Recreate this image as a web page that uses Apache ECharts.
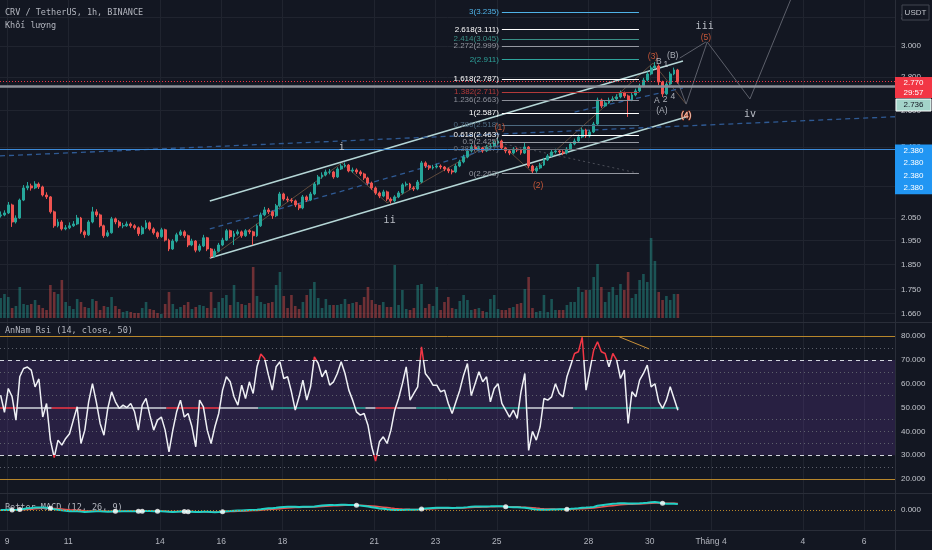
<!DOCTYPE html>
<html>
<head>
<meta charset="utf-8">
<title>CRV / TetherUS 1h</title>
<script src="https://cdn.jsdelivr.net/npm/echarts@6/dist/echarts.min.js"></script>
<style>
html,body{margin:0;padding:0;background:#131722;}
#chart{width:932px;height:550px;}
</style>
</head>
<body>
<div id="chart"></div>
<script>
// ================= DATA =================
const firstCandleTime = '2022-03-08 19:00';
const candleHours = 3;
const firstOpen = 2.060;
const closes = [
2.064,2.073,2.110,2.032,2.050,2.133,2.191,2.201,2.191,2.210,
2.196,2.157,2.148,2.078,2.015,2.032,2.001,2.006,2.015,2.023,
2.050,1.988,1.975,2.032,2.078,2.064,2.015,1.971,1.984,2.046,
2.032,2.015,2.015,2.023,2.015,2.006,1.980,2.006,2.028,2.001,
1.984,1.967,1.997,1.952,1.914,1.948,1.975,1.988,1.971,1.931,
1.948,1.909,1.927,1.962,1.914,1.884,1.905,1.931,1.952,1.993,
1.967,1.980,1.988,1.971,1.993,1.988,1.971,2.015,2.064,2.087,
2.078,2.060,2.106,2.162,2.138,2.133,2.129,2.110,2.096,2.148,
2.133,2.162,2.210,2.245,2.255,2.270,2.270,2.245,2.285,2.300,
2.305,2.275,2.280,2.270,2.260,2.240,2.215,2.191,2.167,2.152,
2.172,2.138,2.129,2.148,2.167,2.206,2.210,2.191,2.186,2.220,
2.316,2.300,2.290,2.295,2.300,2.295,2.285,2.275,2.270,2.300,
2.321,2.347,2.378,2.399,2.388,2.394,2.378,2.399,2.404,2.420,
2.431,2.394,2.378,2.367,2.388,2.383,2.367,2.399,2.300,2.275,
2.290,2.305,2.331,2.352,2.373,2.378,2.373,2.367,2.388,2.415,
2.431,2.453,2.491,2.458,2.480,2.524,2.662,2.627,2.645,2.662,
2.668,2.680,2.704,2.686,2.662,2.692,2.716,2.746,2.782,2.820,
2.858,2.870,2.770,2.698,2.758,2.820,2.845,2.770
];
const highs = [
2.080,2.085,2.124,2.116,2.062,2.140,2.205,2.220,2.212,2.224,
2.218,2.202,2.170,2.152,2.084,2.045,2.040,2.018,2.030,2.036,
2.064,2.055,1.995,2.040,2.101,2.090,2.070,2.020,1.995,2.055,
2.052,2.040,2.028,2.034,2.030,2.022,2.012,2.015,2.040,2.034,
2.008,1.990,2.006,2.002,1.958,1.956,1.984,1.997,1.995,1.976,
1.958,1.952,1.936,1.975,1.966,1.918,1.915,1.940,1.962,2.001,
1.998,1.992,1.998,1.994,2.000,1.999,1.993,2.024,2.075,2.101,
2.096,2.084,2.115,2.172,2.168,2.150,2.142,2.135,2.118,2.157,
2.155,2.172,2.220,2.255,2.268,2.282,2.285,2.276,2.294,2.312,
2.318,2.310,2.292,2.288,2.278,2.266,2.246,2.222,2.198,2.174,
2.182,2.178,2.146,2.156,2.176,2.214,2.222,2.216,2.200,2.230,
2.326,2.324,2.306,2.306,2.312,2.308,2.300,2.292,2.284,2.310,
2.332,2.358,2.390,2.412,2.408,2.406,2.400,2.410,2.416,2.432,
2.446,2.438,2.400,2.386,2.398,2.396,2.390,2.420,2.404,2.306,
2.300,2.316,2.342,2.362,2.384,2.390,2.388,2.382,2.398,2.426,
2.444,2.466,2.504,2.498,2.492,2.536,2.676,2.670,2.658,2.676,
2.684,2.696,2.718,2.712,2.694,2.704,2.730,2.760,2.796,2.834,
2.872,2.895,2.880,2.778,2.770,2.834,2.860,2.852
];
const lows = [
2.052,2.058,2.068,2.010,2.025,2.046,2.128,2.180,2.178,2.185,
2.186,2.150,2.138,2.070,2.006,2.008,1.994,1.995,2.000,2.010,
2.018,1.980,1.962,1.970,2.026,2.055,2.008,1.962,1.965,1.980,
2.022,2.006,2.004,2.010,2.006,1.998,1.970,1.975,2.000,1.994,
1.976,1.958,1.962,1.946,1.905,1.910,1.942,1.970,1.962,1.922,
1.926,1.900,1.902,1.922,1.905,1.876,1.878,1.900,1.926,1.948,
1.960,1.931,1.972,1.962,1.966,1.978,1.931,1.966,2.010,2.058,
2.068,2.046,2.054,2.100,2.130,2.124,2.120,2.100,2.086,2.090,
2.124,2.128,2.156,2.204,2.236,2.248,2.258,2.236,2.240,2.280,
2.292,2.268,2.266,2.260,2.250,2.230,2.206,2.182,2.158,2.142,
2.146,2.128,2.117,2.122,2.142,2.160,2.198,2.182,2.176,2.180,
2.214,2.290,2.280,2.282,2.288,2.284,2.274,2.264,2.258,2.264,
2.294,2.314,2.340,2.370,2.378,2.380,2.368,2.372,2.392,2.398,
2.414,2.385,2.366,2.356,2.360,2.372,2.358,2.362,2.290,2.262,
2.266,2.284,2.300,2.326,2.346,2.364,2.362,2.356,2.360,2.382,
2.408,2.424,2.446,2.448,2.450,2.474,2.518,2.615,2.620,2.638,
2.652,2.660,2.672,2.674,2.564,2.655,2.684,2.708,2.738,2.774,
2.812,2.850,2.752,2.680,2.690,2.750,2.812,2.760
];
const volumes = [
20,24,21,10,12,31,14,13,14,18,
13,10,8,33,26,24,38,16,12,9,
19,16,11,10,19,17,8,12,11,21,
12,9,6,7,6,5,5,10,16,9,
8,5,4,14,26,14,9,11,13,16,
9,11,13,12,10,26,10,16,20,23,
13,33,16,14,13,15,51,22,16,14,
15,16,33,46,22,10,23,12,9,16,
23,29,36,20,10,19,13,13,13,14,
19,14,15,16,13,21,31,18,14,13,
16,11,11,53,13,28,9,8,10,33,
34,10,14,12,31,8,16,21,10,9,
17,23,18,8,9,10,7,6,19,23,
9,8,8,10,11,14,15,29,41,10,
6,7,23,6,19,8,8,8,13,16,
16,31,26,28,28,41,54,31,16,26,
31,23,34,28,46,20,24,38,44,36,
80,57,26,18,22,18,24,24
];
const rsiValues = [
55.2,48,58,54.5,44.7,62.9,66.4,67,65.7,58.7,
62,46,51.7,36.3,29,36.3,34.2,37,39,44.7,
50.3,34.9,40.5,52.4,60,52.4,43.3,38.4,49.6,56.6,
52.4,49.6,51,50,51.7,48.2,40.5,51,53.8,46.8,
40.5,44.7,46,40.5,31.4,40.5,48.2,53.1,46,47.5,
41.9,33.5,53.1,50.3,40.5,34.9,41.9,47.5,57.3,62.9,
60.8,54.5,51,59.4,53.8,60.8,55.9,67.1,72.5,70.6,
63.6,57.3,67.1,69.2,62.2,62.9,56.6,48.9,54.5,61.5,
53.1,58.7,71.3,68.5,62.9,65.7,59.4,60.8,64.3,69.2,
64.3,57.3,53.1,48.2,46.8,47.5,42.6,33.5,27.5,35.6,
37.7,34.9,40.5,48.9,53.8,60,67.1,53.1,55.9,58.7,
75.5,64.3,62.2,59.4,59.4,56.6,57.3,51.7,47.5,52.4,
57.3,63.6,68.5,55,60,65,60.8,62.9,52.4,58,
60,51.7,48.9,46,48.9,45.4,56.6,64.3,32,40,
36.3,41.9,53.8,53.1,54.5,60,55.9,54.5,62.9,67.8,
72.7,73.4,79.5,57.3,65.7,74.1,77.6,73.4,72.7,67.1,
72.7,69.9,62.2,65.7,43.3,56.6,54.5,61.5,64.3,67.8,
58.7,60,52.4,49.6,53.1,58.7,53.8,48.9
];

const priceTicks = [1.66, 1.75, 1.85, 1.95, 2.05, 2.20, 2.40, 2.60, 2.80, 3.00, 3.20];
const rsiTicks = [20, 30, 40, 50, 60, 70, 80];
const dateTicks = ['2022-03-09','2022-03-11','2022-03-14','2022-03-16','2022-03-18','2022-03-21',
  '2022-03-23','2022-03-25','2022-03-28','2022-03-30','2022-04-01','2022-04-04','2022-04-06'];
const viewStart = '2022-03-08 18:30';
const viewEnd = '2022-04-07 00:15';

// horizontal price lines
const lastPrice = 2.770;
const countdown = '29:57';
const grayLinePrice = 2.736;
const blueLinePrice = 2.380;
const blueLineCount = 4;

// Fibonacci extension
const fibStartTime = '2022-03-25 04:00';
const fibEndTime = '2022-03-29 15:30';
const fibRatios = ['3.272', '3', '2.618', '2.414', '2.272', '2', '1.618', '1.382', '1.236', '1', '0.786', '0.618', '0.5', '0.382', '0'];
const fibPrices = [3.323, 3.235, 3.111, 3.045, 2.999, 2.911, 2.787, 2.711, 2.663, 2.587, 2.518, 2.463, 2.425, 2.387, 2.263];

// drawings (time, price)
const channelUpper = [['2022-03-15 15:00', 2.129], ['2022-03-31 02:00', 2.902]];
const channelLower = [['2022-03-15 15:00', 1.876], ['2022-03-31 04:30', 2.564]];
const channelMid = [['2022-03-15 15:00', 2.001], ['2022-03-25 02:30', 2.405]];
const longDash = [['2022-03-08 18:30', 2.352], ['2022-04-07 00:15', 2.565]];
const shortDash = [['2022-03-27 13:00', 2.592], ['2022-03-31 02:00', 2.734]];
const projPath = [['2022-03-30 22:00', 2.770], ['2022-03-31 04:30', 2.638], ['2022-03-31 21:00', 3.027], ['2022-04-02 06:30', 2.668], ['2022-04-03 16:00', 3.36]];
const projBranch = [['2022-03-30 23:30', 2.921], ['2022-03-31 20:00', 3.027]];
const wavePath = [['2022-03-15 15:00', 1.876], ['2022-03-19 22:30', 2.316], ['2022-03-21 10:00', 2.120], ['2022-03-25 00:00', 2.436], ['2022-03-26 03:30', 2.270], ['2022-03-30 02:30', 2.889], ['2022-03-31 04:30', 2.638]];
const fibDiag = [['2022-03-25 02:30', 2.420], ['2022-03-29 14:00', 2.265]];

// wave labels
const waveText = ['i','ii','(1)','(2)','(3)','B','1','(B)','A','2','4','(A)','(4)','iii','(5)','iv'];
const waveTime = ['2022-03-19 22:30','2022-03-21 12:00','2022-03-25 02:30','2022-03-26 08:30','2022-03-30 02:30','2022-03-30 07:00','2022-03-30 12:30','2022-03-30 18:00','2022-03-30 05:30','2022-03-30 12:00','2022-03-30 18:00','2022-03-30 09:30','2022-03-31 04:30','2022-03-31 19:00','2022-03-31 20:00','2022-04-02 06:30'];
const wavePrice = [2.399, 2.041, 2.502, 2.201, 2.931, 2.896, 2.877, 2.934, 2.656, 2.662, 2.680, 2.598, 2.569, 3.136, 3.054, 2.579];
const waveKind = ['roman','roman','major','major','major','sub','sub','sub','sub','sub','sub','sub','special','roman','major','roman'];

// RSI drawings
const rsiMidStart = ['2022-03-08 18:30','2022-03-09 08:00','2022-03-10 11:00','2022-03-11 07:00','2022-03-14 05:00','2022-03-15 23:00','2022-03-17 05:00','2022-03-20 17:00','2022-03-21 01:00','2022-03-21 18:00','2022-03-22 09:00','2022-03-26 00:00','2022-03-27 12:00'];
const rsiMidEnd = ['2022-03-09 08:00','2022-03-10 11:00','2022-03-11 07:00','2022-03-14 05:00','2022-03-15 23:00','2022-03-17 05:00','2022-03-20 17:00','2022-03-21 01:00','2022-03-21 18:00','2022-03-22 09:00','2022-03-26 00:00','2022-03-27 12:00','2022-03-30 23:00'];
const rsiMidState = ['bear','neutral','bear','neutral','bear','neutral','bull','neutral','bear','neutral','bull','neutral','bull'];
const rsiDiverge = [['2022-03-29 00:00', 79.7], ['2022-03-29 23:30', 74.6]];

// ================= BUILD =================
const T = s => Date.parse(s.length === 10 ? s + 'T00:00:00Z' : s.replace(' ', 'T') + ':00Z');
const L = Math.log;
const HOUR = 3600e3;
const t0 = T(firstCandleTime);
const times = closes.map((_, i) => t0 + i * candleHours * HOUR);
const opens = closes.map((c, i) => i === 0 ? firstOpen : closes[i - 1]);
const candleData = closes.map((c, i) => [times[i], L(opens[i]), L(c), L(lows[i]), L(highs[i])]);
const UP = '#26a69a', DOWN = '#ef5350';
const volData = volumes.map((v, i) => ({
  value: [times[i], v],
  itemStyle: { color: closes[i] >= opens[i] ? 'rgba(38,166,154,0.42)' : 'rgba(239,83,80,0.42)' }
}));
const rsiData = rsiValues.map((v, i) => [times[i], v]);

function ema(src, n) {
  const a = 2 / (n + 1), out = [];
  src.forEach((v, i) => out.push(i ? a * v + (1 - a) * out[i - 1] : v));
  return out;
}
const e12 = ema(closes, 12), e26 = ema(closes, 26);
const macd = e12.map((v, i) => v - e26[i]);
const signal = ema(macd, 9);
const crossDots = [];
for (let i = 1; i < macd.length; i++) {
  const a = macd[i - 1] - signal[i - 1], b = macd[i] - signal[i];
  if ((a < 0) !== (b < 0)) crossDots.push([times[i], macd[i]]);
}
const macdAbs = Math.max(...macd.map(Math.abs), ...signal.map(Math.abs));
const macdMax = macdAbs * 2.0, macdMin = -macdMax * 1.25;

const xMin = T(viewStart), xMax = T(viewEnd);
const dateTickVals = dateTicks.map(T);
const lnMin = 0.48758, lnMax = 1.20044;

const fibColors = ['#787b86','#4fb3e8','#ffffff','#3b8f86','#9598a1','#2ea39b','#ffffff','#b33a3a','#8c8f99','#ffffff','#4d6a80','#ffffff','#9598a1','#6d7079','#9598a1'];
const fibLines = fibPrices.map((p, i) => [
  { coord: [T(fibStartTime), L(p)], lineStyle: { color: fibColors[i], width: 1.2, type: 'solid' },
    label: { show: i > 0, position: 'start', distance: 3, formatter: fibRatios[i] + '(' + p.toFixed(3) + ')',
      color: fibColors[i], fontSize: 8, fontFamily: 'Liberation Sans' } },
  { coord: [T(fibEndTime), L(p)] }
]);
const hLines = [
  { yAxis: L(blueLinePrice), lineStyle: { color: '#3c8ad8', width: 1, type: 'solid' } },
  { yAxis: L(grayLinePrice), lineStyle: { color: '#8d9099', width: 2.5, type: 'solid' } },
  { yAxis: L(lastPrice), lineStyle: { color: '#f23645', width: 1, type: [1, 2] } }
];

const lineSeries = (pts, style, z) => ({
  type: 'line', xAxisIndex: 0, yAxisIndex: 0, silent: true, symbol: 'none', z: z || 3,
  data: pts.map(p => [T(p[0]), L(p[1])]), lineStyle: style, animation: false
});

const waveStyles = {
  roman: { color: '#e0e3eb', fontSize: 10, fontFamily: 'DejaVu Sans Mono' },
  major: { color: '#f4683f', fontSize: 8.5, fontFamily: 'Liberation Sans' },
  sub: { color: '#d1d4dc', fontSize: 8.5, fontFamily: 'Liberation Sans' },
  special: { color: '#ffffff', fontSize: 8.5, fontFamily: 'Liberation Sans', textBorderColor: '#d84315', textBorderWidth: 1 }
};
const waveData = waveText.map((s, i) => ({
  value: [T(waveTime[i]), L(wavePrice[i])],
  label: Object.assign({ show: true, position: 'inside', formatter: s }, waveStyles[waveKind[i]])
}));

const midColors = { bear: '#f23645', neutral: '#d1d4dc', bull: '#26a69a' };
const rsiMid = rsiMidStart.map((s, i) => [
  { coord: [T(s), 50], lineStyle: { color: midColors[rsiMidState[i]], width: 1.5, type: 'solid' } },
  { coord: [T(rsiMidEnd[i]), 50] }
]);
const rsiLevels = [
  { yAxis: 80, lineStyle: { color: '#b8862b', width: 1, type: 'solid' } },
  { yAxis: 20, lineStyle: { color: '#b8862b', width: 1, type: 'solid' } },
  { yAxis: 70, lineStyle: { color: '#d1d4dc', width: 1, type: [4, 4] } },
  { yAxis: 30, lineStyle: { color: '#d1d4dc', width: 1, type: [4, 4] } }
].concat([75, 65, 60, 55, 45, 40, 35, 25].map(v => ({ yAxis: v, lineStyle: { color: '#5d606b', width: 1, type: [1, 3] } })));
const rsiDiv = [[
  { coord: [T(rsiDiverge[0][0]), rsiDiverge[0][1]], lineStyle: { color: '#c9913a', width: 1, type: 'solid' } },
  { coord: [T(rsiDiverge[1][0]), rsiDiverge[1][1]] }
]];

const gridLineColor = '#20242f';
const axisText = { color: '#c2c5cc', fontSize: 8, fontFamily: 'Liberation Sans' };
const xAxisBase = i => ({
  type: 'value', gridIndex: i, min: xMin, max: xMax,
  axisLine: { show: false },
  axisTick: { show: false, customValues: dateTickVals },
  axisLabel: i === 3 ? {
    show: true, customValues: dateTickVals, margin: 7, hideOverlap: false,
    color: '#b2b5be', fontSize: 8.5, fontFamily: 'Liberation Sans',
    formatter: v => { const d = new Date(v); return d.getUTCDate() === 1 ? 'Tháng ' + (d.getUTCMonth() + 1) : String(d.getUTCDate()); }
  } : { show: false },
  splitLine: { show: i !== 1, lineStyle: { color: gridLineColor, width: 1 } }
});

const chart = echarts.init(document.getElementById('chart'));
chart.setOption({
  animation: false,
  backgroundColor: '#131722',
  textStyle: { fontFamily: 'Liberation Sans' },
  grid: [
    { left: 0, right: 37, top: 0, height: 322 },
    { left: 0, right: 37, top: 198, height: 120 },
    { left: 0, right: 37, top: 323, height: 170 },
    { left: 0, right: 37, top: 494, height: 36 }
  ],
  xAxis: [xAxisBase(0), xAxisBase(1), xAxisBase(2), xAxisBase(3)],
  yAxis: [
    { type: 'value', gridIndex: 0, position: 'right', min: lnMin, max: lnMax,
      axisLine: { show: false }, axisTick: { show: false, customValues: priceTicks.map(L) },
      axisLabel: Object.assign({ customValues: priceTicks.map(L), margin: 6, formatter: v => Math.exp(v).toFixed(3) }, axisText),
      splitLine: { show: true, lineStyle: { color: gridLineColor } } },
    { type: 'value', gridIndex: 1, min: 0, max: 120, show: false },
    { type: 'value', gridIndex: 2, position: 'right', min: 14.1, max: 85.5,
      axisLine: { show: false }, axisTick: { show: false, customValues: rsiTicks },
      axisLabel: Object.assign({ customValues: rsiTicks, margin: 6, formatter: v => v.toFixed(3) }, axisText),
      splitLine: { show: false } },
    { type: 'value', gridIndex: 3, position: 'right', min: macdMin, max: macdMax,
      axisLine: { show: false }, axisTick: { show: false, customValues: [0] },
      axisLabel: Object.assign({ customValues: [0], margin: 6, formatter: () => '0.000' }, axisText),
      splitLine: { show: false } }
  ],
  visualMap: [{
    type: 'piecewise', show: false, seriesIndex: 12, dimension: 1,
    pieces: [{ gt: 70, color: '#f23645' }, { lt: 30, color: '#f23645' }, { gte: 30, lte: 70, color: '#eef0f4' }]
  }],
  series: [
    { // 0 candles
      type: 'candlestick', name: 'CRV', xAxisIndex: 0, yAxisIndex: 0, data: candleData, barWidth: 2.4, z: 4,
      itemStyle: { color: UP, color0: DOWN, borderColor: UP, borderColor0: DOWN, borderWidth: 1 },
      markLine: { silent: true, symbol: ['none', 'none'], label: { show: false }, animation: false,
        data: hLines.concat(fibLines) }
    },
    { // 1 volume
      type: 'bar', name: 'Khối lượng', xAxisIndex: 1, yAxisIndex: 1, data: volData, barWidth: 2.6, silent: true, z: 1
    },
    lineSeries(channelUpper, { color: '#b5d6d6', width: 1.5 }),            // 2
    lineSeries(channelLower, { color: '#b5d6d6', width: 1.5 }),            // 3
    lineSeries(channelMid, { color: '#2f5a94', width: 1.3, type: [5, 4] }), // 4
    lineSeries(longDash, { color: '#2f5a94', width: 1.3, type: [5, 4] }),   // 5
    lineSeries(shortDash, { color: '#2f5a94', width: 1.3, type: [5, 4] }),  // 6
    lineSeries(projPath, { color: '#5d606b', width: 1 }),                   // 7
    lineSeries(projBranch, { color: '#5d606b', width: 1 }),                 // 8
    lineSeries(wavePath, { color: '#5e4a3c', width: 1 }, 2),                // 9
    lineSeries(fibDiag, { color: '#4a4d57', width: 1, type: [2, 3] }, 2),   // 10
    { // 11 wave labels
      type: 'scatter', xAxisIndex: 0, yAxisIndex: 0, symbolSize: 0, silent: true, z: 5, data: waveData
    },
    { // 12 RSI
      type: 'line', name: 'AnNam Rsi', xAxisIndex: 2, yAxisIndex: 2, data: rsiData, symbol: 'none', z: 5,
      lineStyle: { width: 1.5 }, silent: true,
      markArea: { silent: true, itemStyle: { color: 'rgba(126,70,194,0.2)' }, data: [[{ yAxis: 30 }, { yAxis: 70 }]] },
      markLine: { silent: true, symbol: ['none', 'none'], label: { show: false }, animation: false,
        data: rsiLevels.concat(rsiMid, rsiDiv) }
    },
    { // 13 MACD
      type: 'line', name: 'MACD', xAxisIndex: 3, yAxisIndex: 3, symbol: 'none', silent: true, z: 4,
      data: macd.map((v, i) => [times[i], v]), lineStyle: { color: '#22d1c6', width: 2 },
      markLine: { silent: true, symbol: ['none', 'none'], label: { show: false },
        data: [{ yAxis: 0, lineStyle: { color: '#b8862b', width: 1, type: [1, 2] } }] }
    },
    { // 14 signal
      type: 'line', name: 'Signal', xAxisIndex: 3, yAxisIndex: 3, symbol: 'none', silent: true, z: 3,
      data: signal.map((v, i) => [times[i], v]), lineStyle: { color: '#ef5350', width: 1.5 }
    },
    { // 15 cross dots
      type: 'scatter', xAxisIndex: 3, yAxisIndex: 3, symbolSize: 5, silent: true, z: 6,
      itemStyle: { color: '#ffffff' }, data: crossDots
    }
  ]
});

// ---------- overlay texts and right-scale price tags ----------
const yP = p => chart.convertToPixel({ yAxisIndex: 0 }, L(p));
const W = 932, AX = 895;
const txt = (x, y, s, opt) => ({ type: 'text', x, y, z: (opt && opt.z) || 100,
  style: Object.assign({ text: s, fill: '#b2b5be', fontSize: 8.5, fontFamily: 'DejaVu Sans Mono', verticalAlign: 'middle', align: 'left' }, opt && opt.style) });
const rect = (x, y, w, h, style, z) => ({ type: 'rect', z: z || 90, shape: { x, y, width: w, height: h }, style });
const hline = (y) => ({ type: 'line', z: 80, shape: { x1: 0, y1: y, x2: W, y2: y }, style: { stroke: '#2a2e39', lineWidth: 1 } });

const redTop = yP(lastPrice) - 5;
const blueTop = yP(blueLinePrice) - 6;
const g = [
  hline(322.5), hline(493.5), hline(530.5),
  { type: 'line', z: 80, shape: { x1: AX + 0.5, y1: 0, x2: AX + 0.5, y2: 550 }, style: { stroke: '#2a2e39', lineWidth: 1 } },
  txt(5, 13, 'CRV / TetherUS, 1h, BINANCE'),
  txt(5, 26, 'Khối lượng'),
  txt(5, 331, 'AnNam Rsi (14, close, 50)'),
  txt(5, 508, 'Better MACD (12, 26, 9)', { z: 1 }),
  rect(902, 5, 27, 15, { fill: '#131722', stroke: '#434651', lineWidth: 1 }, 95),
  txt(915.5, 12.5, 'USDT', { z: 101, style: { align: 'center', fontSize: 8, fontFamily: 'Liberation Sans', fill: '#c2c5cc' } }),
  rect(AX, redTop, W - AX, 21, { fill: '#f23645' }),
  txt(913.5, redTop + 5.5, lastPrice.toFixed(3), { style: { align: 'center', fill: '#ffffff', fontSize: 8, fontFamily: 'Liberation Sans' } }),
  txt(913.5, redTop + 15.5, countdown, { style: { align: 'center', fill: '#ffffff', fontSize: 8, fontFamily: 'Liberation Sans' } }),
  rect(AX + 1, redTop + 22, W - AX - 2, 12, { fill: '#a3d4c9', stroke: '#ffffff', lineWidth: 1 }),
  txt(913.5, redTop + 28, grayLinePrice.toFixed(3), { style: { align: 'center', fill: '#131722', fontSize: 8, fontFamily: 'Liberation Sans' } }),
  rect(AX, blueTop, W - AX, 12.4 * blueLineCount, { fill: '#2196f3' })
];
for (let i = 0; i < blueLineCount; i++) {
  g.push(txt(913.5, blueTop + 6.2 + 12.4 * i, blueLinePrice.toFixed(3),
    { style: { align: 'center', fill: '#ffffff', fontSize: 8, fontFamily: 'Liberation Sans' } }));
}
chart.setOption({ graphic: g });
</script>
</body>
</html>
